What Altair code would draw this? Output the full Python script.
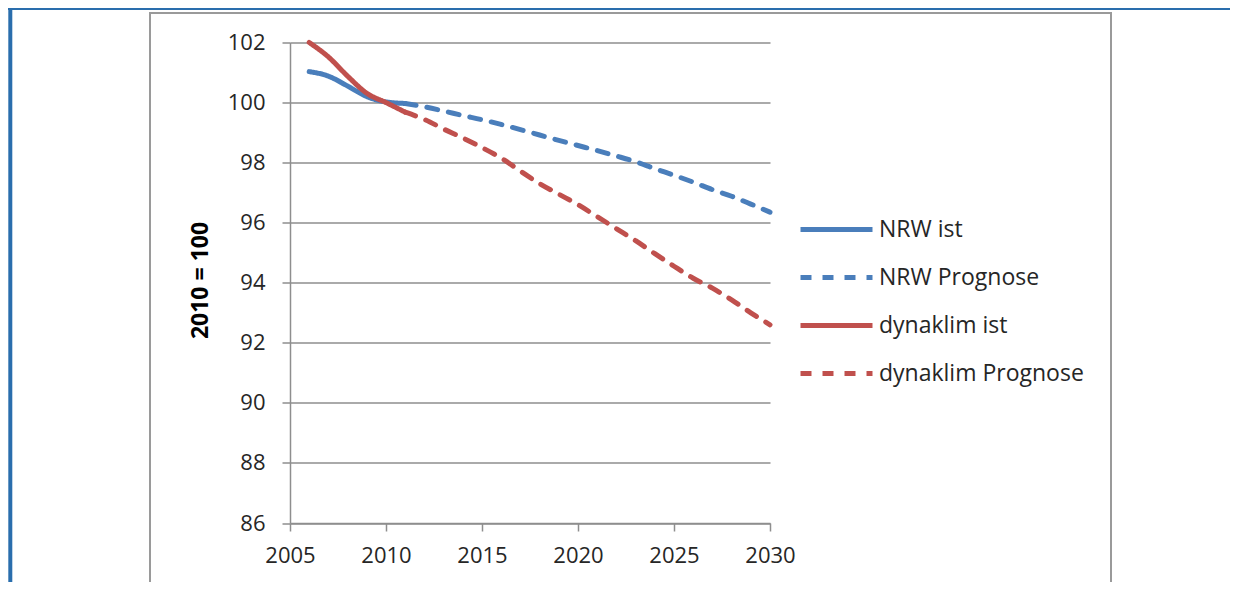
import altair as alt
import pandas as pd

# ---- data ----
years_ist = [2006, 2007, 2008, 2009, 2010, 2011]
nrw_ist = [101.03, 100.88, 100.55, 100.2, 100.02, 99.97]
dyn_ist = [102.0, 101.52, 100.88, 100.31, 100.0, 99.68]

years_prog = list(range(2011, 2031))
nrw_prog = [99.97, 99.86, 99.72, 99.57, 99.43, 99.27, 99.1, 98.92, 98.74, 98.57,
            98.4, 98.22, 98.03, 97.8, 97.58, 97.35, 97.1, 96.88, 96.62, 96.35]
dyn_prog = [99.68, 99.44, 99.12, 98.82, 98.5, 98.15, 97.72, 97.3, 96.95, 96.6,
            96.2, 95.8, 95.4, 94.97, 94.55, 94.15, 93.82, 93.43, 93.0, 92.6]

series_names = ["NRW ist", "NRW Prognose", "dynaklim ist", "dynaklim Prognose"]
series_colors = ["#4a7ebb", "#4a7ebb", "#c0504d", "#c0504d"]
series_dash = [[1, 0], [11, 11], [1, 0], [11, 11]]

x_ticks = [2005, 2010, 2015, 2020, 2025, 2030]
y_ticks = [86, 88, 90, 92, 94, 96, 98, 100, 102]
y_title = "2010 = 100"

rows = []
for name, yrs, vals in [
    (series_names[0], years_ist, nrw_ist),
    (series_names[1], years_prog, nrw_prog),
    (series_names[2], years_ist, dyn_ist),
    (series_names[3], years_prog, dyn_prog),
]:
    for y, v in zip(yrs, vals):
        rows.append({"series": name, "year": y, "value": v})
df = pd.DataFrame(rows)

FONT = "Open Sans"
GRID = "#8e8e8e"


def make_legend():
    return alt.Legend(title=None, orient="none", legendX=508, legendY=163,
                      symbolType="stroke", symbolSize=5184, symbolStrokeWidth=5,
                      labelFont=FONT, labelFontSize=23, labelColor="#262626",
                      labelOffset=4, labelLimit=400, rowPadding=0,
                      clipHeight=48, padding=0)


lines = alt.Chart(df).mark_line(
    strokeWidth=5, strokeCap="round", interpolate="monotone"
).encode(
    x=alt.X("year:Q",
            scale=alt.Scale(domain=[2005, 2030], nice=False, zero=False),
            axis=alt.Axis(values=x_ticks, format="d", title=None, grid=False,
                          labelFlush=False, labelOverlap=False,
                          domainColor=GRID, domainWidth=1.5, tickColor=GRID,
                          tickWidth=1.5, tickSize=8, labelPadding=14,
                          labelFont=FONT, labelFontSize=22, labelColor="#262626")),
    y=alt.Y("value:Q",
            scale=alt.Scale(domain=[86, 102], nice=False, zero=False),
            axis=alt.Axis(values=y_ticks, title=None, grid=True, gridColor=GRID,
                          gridWidth=1.5, domainColor=GRID, domainWidth=1.5,
                          tickColor=GRID, tickWidth=1.5, tickSize=8,
                          labelFlush=False, labelOverlap=False,
                          labelPadding=17, labelFont=FONT, labelFontSize=22,
                          labelColor="#262626")),
    color=alt.Color("series:N",
                    scale=alt.Scale(domain=series_names, range=series_colors),
                    legend=make_legend()),
    strokeDash=alt.StrokeDash("series:N",
                              scale=alt.Scale(domain=series_names, range=series_dash),
                              legend=make_legend()),
    detail="series:N",
)

deco = pd.DataFrame({"title": [y_title]})

frame_box = alt.Chart(deco).mark_rect(
    fillOpacity=0, stroke="#9a9a9a", strokeWidth=2
).encode(x=alt.value(-140), x2=alt.value(821), y=alt.value(-29.5), y2=alt.value(545.5))

blue_left = alt.Chart(deco).mark_rule(color="#2a6ead", strokeWidth=4).encode(
    x=alt.value(-279.7), y=alt.value(-34.5), y2=alt.value(560))
blue_top = alt.Chart(deco).mark_rule(color="#2a6ead", strokeWidth=2).encode(
    x=alt.value(-282), x2=alt.value(960), y=alt.value(-33.5))

ytitle = alt.Chart(deco).mark_text(
    angle=270, font=FONT, fontSize=23, fontWeight="bold", color="#000000",
    align="center", baseline="middle"
).encode(x=alt.value(-89), y=alt.value(238), text="title:N")

chart = alt.layer(frame_box, blue_left, blue_top, lines, ytitle).properties(
    width=480, height=480.5,
    autosize=alt.AutoSizeParams(type="none"),
    padding={"left": 282, "top": 34.5, "right": 460, "bottom": 59},
).configure_view(stroke=None)

chart.save("out.html", embed_options={"renderer": "svg", "actions": False})
